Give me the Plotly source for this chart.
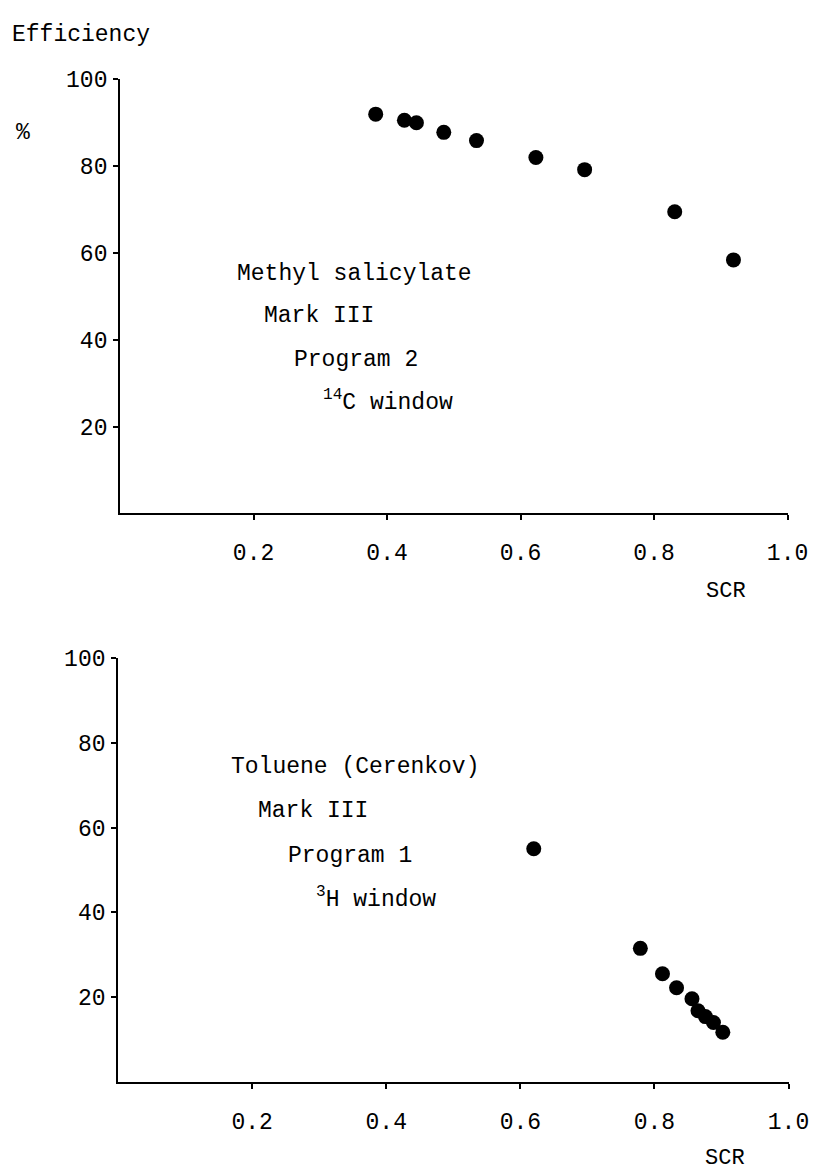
import plotly.graph_objects as go

W, H = 821, 1169

# Top panel: Methyl salicylate, Mark III, Program 2, 14C window
top_scr = [0.383, 0.426, 0.444, 0.485, 0.534, 0.623, 0.696, 0.831, 0.919]
top_eff = [92.0, 90.6, 90.0, 87.8, 85.9, 82.0, 79.2, 69.5, 58.4]

# Bottom panel: Toluene (Cerenkov), Mark III, Program 1, 3H window
bot_scr = [0.62, 0.779, 0.812, 0.833, 0.856, 0.865, 0.876, 0.888, 0.902]
bot_eff = [55.0, 31.5, 25.5, 22.2, 19.6, 16.8, 15.4, 14.0, 11.7]

x_ticks = [0.2, 0.4, 0.6, 0.8, 1.0]
x_tick_labels = ["0.2", "0.4", "0.6", "0.8", "1.0"]
y_ticks = [20, 40, 60, 80, 100]
y_tick_labels = ["20", "40", "60", "80", "100"]

FONT = "Liberation Mono, Courier New, monospace"
FS = 23

def px_x(p):
    return p / W

def px_y(p):
    return 1 - p / H

fig = go.Figure()
fig.add_trace(go.Scatter(x=top_scr, y=top_eff, mode="markers",
                         marker=dict(color="black", size=15),
                         xaxis="x", yaxis="y", cliponaxis=False, showlegend=False))
fig.add_trace(go.Scatter(x=bot_scr, y=bot_eff, mode="markers",
                         marker=dict(color="black", size=15),
                         xaxis="x2", yaxis="y2", cliponaxis=False, showlegend=False))

axis_common = dict(showline=True, linecolor="black", linewidth=2,
                   ticks="outside", ticklen=5, tickwidth=2, tickcolor="black",
                   showgrid=False, zeroline=False,
                   tickfont=dict(family=FONT, size=FS, color="black"))

fig.update_layout(
    width=W, height=H,
    margin=dict(l=0, r=0, t=0, b=0),
    paper_bgcolor="white", plot_bgcolor="white",
    xaxis=dict(domain=[px_x(115), px_x(800)], range=[0, 1.0], anchor="y",
               tickvals=x_ticks, ticktext=x_tick_labels, ticklabelstandoff=12,
               **axis_common),
    yaxis=dict(domain=[px_y(499), px_y(61)], range=[0, 100], anchor="x",
               tickvals=y_ticks, ticktext=y_tick_labels, ticklabelstandoff=1,
               **axis_common),
    xaxis2=dict(domain=[px_x(113), px_x(801)], range=[0, 1.0], anchor="y2",
                tickvals=x_ticks, ticktext=x_tick_labels, ticklabelstandoff=12,
                **axis_common),
    yaxis2=dict(domain=[px_y(1073), px_y(645)], range=[0, 100], anchor="x2",
                tickvals=y_ticks, ticktext=y_tick_labels, ticklabelstandoff=1,
                **axis_common),
)

texts = [
    ("Efficiency", 2, 16),
    ("%", 6, 115),
    ("Methyl salicylate", 233, 257),
    ("Mark III", 261, 300),
    ("Program 2", 291, 344),
    ("<sup>14</sup>C window", 321, 386),
    ("SCR", 714, 578),
    ("Toluene (Cerenkov)", 227, 755),
    ("Mark III", 255, 800),
    ("Program 1", 285, 845),
    ("<sup>3</sup>H window", 314, 887),
    ("SCR", 713, 1150),
]
for t, x, y in texts:
    fig.add_annotation(text=t, x=px_x(x), y=px_y(y), xref="paper", yref="paper",
                       xanchor="left", yanchor="middle", showarrow=False,
                       font=dict(family=FONT, size=FS if t != "SCR" else 22, color="black"))

fig.write_html("out.html")
